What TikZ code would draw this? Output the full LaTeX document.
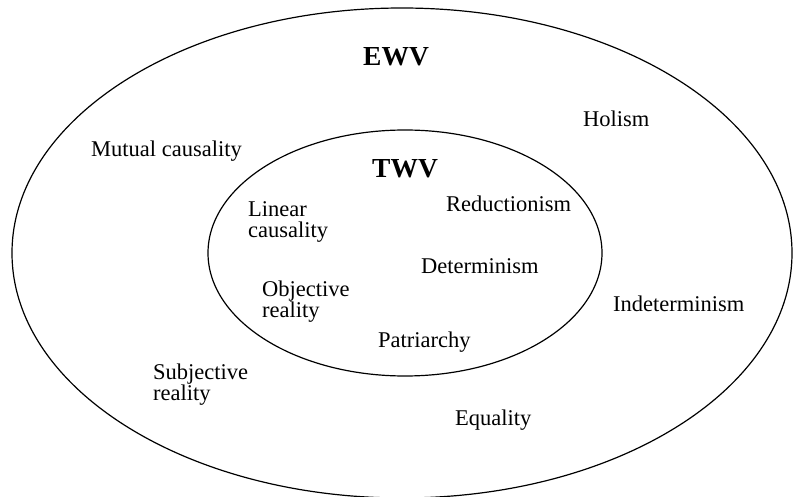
\documentclass[tikz,border=0pt]{standalone}
\usepackage{fontspec}
\setmainfont{Liberation Serif}
\begin{document}
\begin{tikzpicture}[x=1pt,y=-1pt,
  ring/.style={draw=black,line width=1.2pt},
  lbl/.style={inner sep=0pt,anchor=base west,align=left,font={\fontsize{22.5}{21}\selectfont}},
  ttl/.style={inner sep=0pt,anchor=base west,font={\fontsize{27.5}{30}\selectfont\bfseries}}]
\useasboundingbox (0,0) rectangle (793,497);
\draw[ring] (402,253) ellipse [x radius=390, y radius=245];
\draw[ring] (405,253) ellipse [x radius=197, y radius=123];
\node[ttl] (ewv) at (363,66) {EWV};
\node[ttl] (twv) at (372,178) {TWV};
\node[lbl] (mut) at (91,157) {Mutual causality};
\node[lbl] (hol) at (583,127) {Holism};
\node[lbl] (lin) at (248,238) {Linear\\causality};
\node[lbl] (red) at (446,212) {Reductionism};
\node[lbl] (det) at (421,273) {Determinism};
\node[lbl] (obj) at (262,318) {Objective\\reality};
\node[lbl] (pat) at (378,347) {Patriarchy};
\node[lbl] (ind) at (613,312) {Indeterminism};
\node[lbl] (sub) at (153,400) {Subjective\\reality};
\node[lbl] (equ) at (455,425) {Equality};
\end{tikzpicture}
\end{document}
